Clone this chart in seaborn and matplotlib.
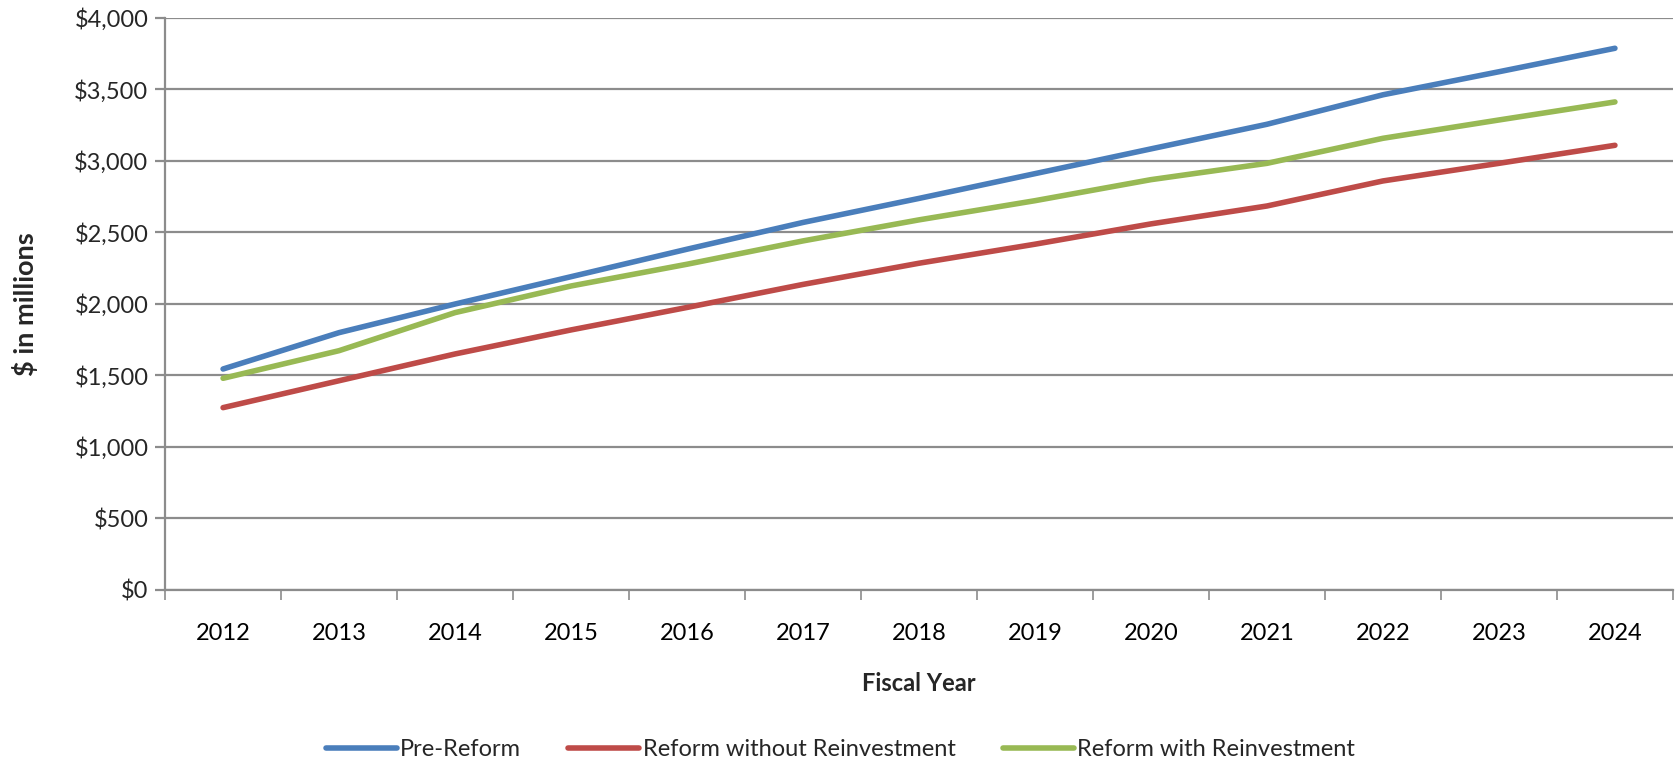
import matplotlib
matplotlib.use("Agg")
import matplotlib.pyplot as plt
import matplotlib.ticker as mticker
import seaborn as sns
import pandas as pd
import numpy as np

years = ["2012", "2013", "2014", "2015", "2016", "2017", "2018",
         "2019", "2020", "2021", "2022", "2023", "2024"]
pre_reform = [1544, 1798, 1998, 2189, 2381, 2568, 2736, 2909, 3082, 3254, 3460, 3621, 3785]
reform_without = [1274, 1462, 1649, 1817, 1974, 2135, 2283, 2416, 2558, 2683, 2858, 2981, 3107]
reform_with = [1479, 1672, 1938, 2124, 2276, 2439, 2586, 2720, 2867, 2981, 3156, 3284, 3410]
series_names = ["Pre-Reform", "Reform without Reinvestment", "Reform with Reinvestment"]
colors = ["#4A7EBB", "#BE4B48", "#98B954"]

df = pd.concat([
    pd.DataFrame({"year": years, "value": vals, "series": name})
    for name, vals in zip(series_names, [pre_reform, reform_without, reform_with])
])

sns.set_theme(style="white")
plt.rcParams['font.family'] = ['Lato', 'DejaVu Sans']

fig = plt.figure(figsize=(16.81, 7.71), dpi=100)
ax = fig.add_axes([0.0982, 0.2348, 0.897, 0.7425])

sns.lineplot(data=df, x="year", y="value", hue="series", palette=colors,
             hue_order=series_names, linewidth=4, ax=ax, sort=False,
             legend=True)
for ln in ax.lines:
    ln.set_solid_capstyle("round")

ax.set_ylim(0, 4000)
ax.set_xlim(-0.5, len(years) - 0.5)
ax.yaxis.set_major_locator(mticker.MultipleLocator(500))
ax.yaxis.set_major_formatter(mticker.FuncFormatter(lambda v, p: f"${v:,.0f}"))
ax.grid(axis="y", color="#8C8C8C", linewidth=1.6)
ax.grid(axis="x", visible=False)
ax.set_axisbelow(True)

grey = "#8C8C8C"
for s in ["top", "right"]:
    ax.spines[s].set_visible(False)
for s in ["left", "bottom"]:
    ax.spines[s].set_color(grey)
    ax.spines[s].set_linewidth(1.6)

ax.set_xticks(range(len(years)))
ax.set_xticklabels(years)
ax.set_xticks(np.arange(-0.5, len(years)), minor=True)
ax.tick_params(axis="x", which="major", length=0, pad=24, labelsize=17, colors="black")
ax.tick_params(axis="x", which="minor", length=7, width=1.2, color=grey, bottom=True)
ax.tick_params(axis="y", which="major", length=7, width=1.6, color=grey, left=True,
               labelsize=17, pad=5)

ax.set_xlabel("Fiscal Year", fontsize=17, fontweight="bold", labelpad=20)
ax.set_ylabel("$ in millions", fontsize=19.5, fontweight="bold", labelpad=26)

handles, labels = ax.get_legend_handles_labels()
ax.legend(handles, labels, loc="center", bbox_to_anchor=(0.5, 0.028),
          bbox_transform=fig.transFigure, ncol=3, frameon=False, fontsize=17,
          handlelength=3.0, handletextpad=0.15, columnspacing=2.0)

fig.savefig("out.png", dpi=100)
